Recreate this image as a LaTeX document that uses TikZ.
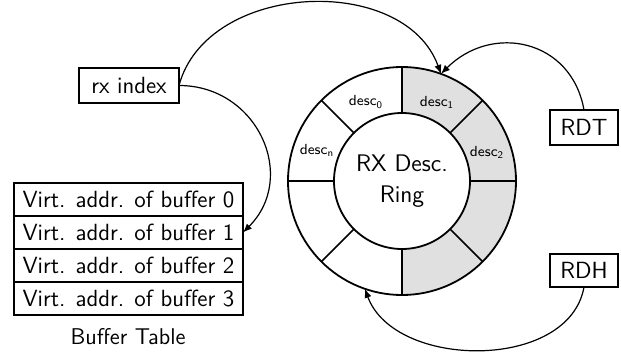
\documentclass[tikz,border=0pt]{standalone}
\usetikzlibrary{arrows.meta}
\begin{document}
\begin{tikzpicture}[x=0.5pt,y=0.5pt,
  every node/.style={font=\sffamily\fontsize{11.7}{14}\selectfont},
  box/.style={draw, line width=0.7pt, inner sep=0pt, outer sep=0pt, minimum height=17.5pt},
  row/.style={draw, line width=0.7pt, inner sep=0pt, outer sep=0pt, minimum width=114.5pt, minimum height=16.5pt},
  desclabel/.style={font=\sffamily\fontsize{7.3}{9}\selectfont, inner sep=0pt},
  conn/.style={line width=0.6pt, -{Latex[length=4.5pt,width=3.6pt]}},
  shaded/.style={fill=black!12}
]
\useasboundingbox (0,0) rectangle (621,354);
\coordinate (c) at (402,173);
% shaded right half
\fill[shaded] (c) ++(90:114) arc[start angle=90, end angle=-90, radius=114] -- cycle;
% spokes
\foreach \a in {0,45,...,315}
  \draw[line width=0.8pt] (c) ++(\a:68) -- ++(\a:46);
% outer circle
\node[circle, draw, line width=0.9pt, inner sep=0pt, outer sep=0pt, minimum size=114pt] (outer) at (c) {};
% inner circle
\node[circle, draw, fill=white, line width=0.9pt, inner sep=0pt, outer sep=0pt, minimum size=68pt,
      align=center, font=\sffamily\fontsize{12}{15.3}\selectfont] (ring) at (c) {RX Desc.\\Ring};
% labels
\node[desclabel] (d0) at (366,252) {desc\textsubscript{0}};
\node[desclabel] (d1) at (437,252) {desc\textsubscript{1}};
\node[desclabel] (d2) at (487,202) {desc\textsubscript{2}};
\node[desclabel] (dn) at (317,204) {desc\textsubscript{n}};
% boxes
\node[box, minimum width=50pt] (rx) at (129,268.5) {rx index};
\node[box, minimum width=34pt] (rdt) at (584,226.5) {RDT};
\node[box, minimum width=34pt, minimum height=16.5pt] (rdh) at (584,83.5) {RDH};
% buffer table
\node[row] (b0) at (128.5,154.5) {Virt. addr. of buffer 0};
\node[row] (b1) at (128.5,121.5) {Virt. addr. of buffer 1};
\node[row] (b2) at (128.5,88.5) {Virt. addr. of buffer 2};
\node[row] (b3) at (128.5,55.5) {Virt. addr. of buffer 3};
\node[font=\sffamily\fontsize{11.4}{14}\selectfont] (bt) at (128,17) {Buffer Table};
% connectors
\draw[conn] (rx.east) to[out=75, in=110, looseness=1.05] (outer.70);
\draw[conn] (rx.east) to[out=0, in=45, looseness=1.25] (b1.east);
\draw[conn] (rdt.north) to[out=100, in=45, looseness=1.25] (outer.70);
\draw[conn] (rdh.south) to[out=-100, in=-70, looseness=1.0] (outer.-109);
\end{tikzpicture}
\end{document}
